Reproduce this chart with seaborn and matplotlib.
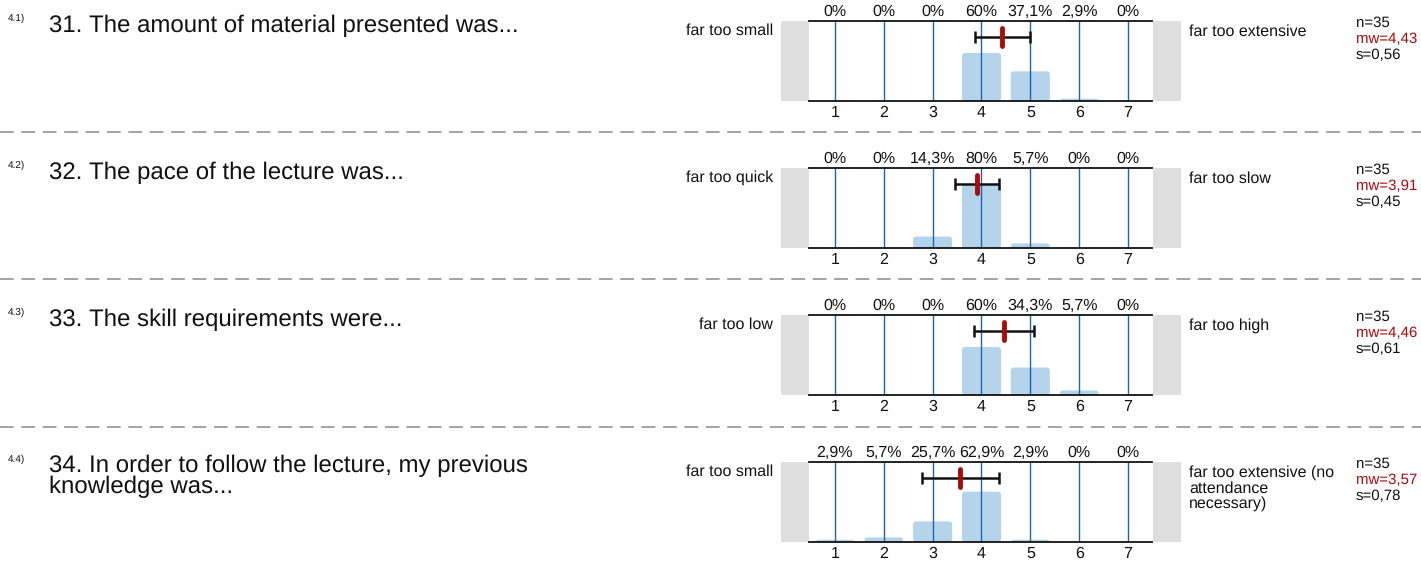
import numpy as np
import pandas as pd
import matplotlib
matplotlib.use("Agg")
import matplotlib.pyplot as plt
import matplotlib.transforms as mtransforms
import seaborn as sns
from matplotlib.patches import Rectangle, FancyBboxPatch
from matplotlib.lines import Line2D

# ---- data ----
scale = [1, 2, 3, 4, 5, 6, 7]
item_ids = ["4.1)", "4.2)", "4.3)", "4.4)"]
questions = [
    "31. The amount of material presented was...",
    "32. The pace of the lecture was...",
    "33. The skill requirements were...",
    "34. In order to follow the lecture, my previous\nknowledge was...",
]
left_labels = ["far too small", "far too quick", "far too low", "far too small"]
right_labels = ["far too extensive", "far too slow", "far too high",
                "far too extensive (no\nattendance\nnecessary)"]
pct_q31 = [0, 0, 0, 60, 37.1, 2.9, 0]
pct_q32 = [0, 0, 14.3, 80, 5.7, 0, 0]
pct_q33 = [0, 0, 0, 60, 34.3, 5.7, 0]
pct_q34 = [2.9, 5.7, 25.7, 62.9, 2.9, 0, 0]
n_resp = [35, 35, 35, 35]
means = [4.43, 3.91, 4.46, 3.57]
sds = [0.56, 0.45, 0.61, 0.78]

pcts = [pct_q31, pct_q32, pct_q33, pct_q34]

sns.set_theme(style="white")
plt.rcParams["font.family"] = ["Liberation Sans", "DejaVu Sans"]
plt.rcParams["text.hinting"] = "no_hinting"
plt.rcParams["text.hinting_factor"] = 1

W, H = 1421, 561
fig = plt.figure(figsize=(W / 100, H / 100), dpi=100)


def fx(px):
    return px / W


def fy(py):
    return 1 - py / H


BAR_C = "#b4d4eb"
GRID_C = "#1f62b0"
RED = "#aa0a0a"
TXT = "#111111"

row_top = [21, 168, 315, 462]
ax_l, ax_r, ax_h = 809, 1152, 80
xlo, xhi = 0.47, 7.49

# dashed separators between the rows
for yy in [132, 279, 427]:
    fig.add_artist(Line2D([0, 1], [fy(yy), fy(yy)], transform=fig.transFigure,
                          color="#8a8a8a", lw=1.1, linestyle=(0, (9, 5))))

for i in range(4):
    top = row_top[i]
    ax = fig.add_axes([fx(ax_l), fy(top + ax_h), fx(ax_r - ax_l), ax_h / H])
    df = pd.DataFrame({"answer": scale, "pct": pcts[i]})
    sns.barplot(data=df, x="answer", y="pct", native_scale=True, color=BAR_C,
                saturation=1, width=0.8, ax=ax, zorder=1)
    ax.set_xlim(xlo, xhi)
    ax.set_ylim(0, 100)

    # swap the plain bars for ones with softly rounded corners
    ux = (xhi - xlo) / (ax_r - ax_l)  # data units per pixel, x
    uy = 100 / ax_h                    # data units per pixel, y
    for p in list(ax.patches):
        x0, w, h = p.get_x(), p.get_width(), p.get_height()
        p.remove()
        if h <= 0:
            continue
        ax.add_patch(FancyBboxPatch((x0, 0), w, h,
                                    boxstyle="round,pad=0,rounding_size=%f" % (3 * ux),
                                    mutation_aspect=uy / ux, fc=BAR_C, ec="none", zorder=1))

    for v in scale:
        ax.axvline(v, color=GRID_C, lw=1.0, zorder=2)
    ax.set_xlabel("")
    ax.set_ylabel("")
    ax.set_yticks([])
    ax.set_xticks(scale)
    ax.set_xticklabels([str(v) for v in scale], fontsize=11.5, color=TXT)
    ax.tick_params(axis="x", length=0, pad=3)
    for s in ["left", "right"]:
        ax.spines[s].set_visible(False)
    for s in ["top", "bottom"]:
        ax.spines[s].set_color("#111111")
        ax.spines[s].set_linewidth(1.3)
    ax.patch.set_alpha(0)

    # percentages above the box
    trans = mtransforms.blended_transform_factory(ax.transData, fig.transFigure)
    for v, p in zip(scale, pcts[i]):
        lab = ("%g" % p).replace(".", ",") + "%"
        ax.text(v, fy(top - 5.5), lab, transform=trans,
                ha="center", va="baseline", fontsize=11.5, color=TXT)

    # mean +- sd and mean marker
    ax.errorbar([means[i]], [80], xerr=[sds[i]], fmt="none", ecolor="#111111",
                elinewidth=1.8, capsize=4, capthick=1.8, zorder=4)
    ax.plot([means[i], means[i]], [69, 91], color=RED, lw=3.5,
            solid_capstyle="round", zorder=5)

    # grey end boxes
    fig.add_artist(Rectangle((fx(781), fy(top + ax_h)), fx(28), ax_h / H,
                             transform=fig.transFigure, color="#dedede", lw=0, zorder=0))
    fig.add_artist(Rectangle((fx(1153), fy(top + ax_h)), fx(28), ax_h / H,
                             transform=fig.transFigure, color="#dedede", lw=0, zorder=0))

    # texts
    fig.text(fx(8), fy(top - 3), item_ids[i], fontsize=7.5, color=TXT, va="center", ha="left")
    q_lines = questions[i].split("\n")
    q_base = top + 11 if len(q_lines) == 1 else top + 10
    for k, line in enumerate(q_lines):
        fig.text(fx(49), fy(q_base + 21 * k), line, fontsize=17.4, color=TXT,
                 va="baseline", ha="left")
    fig.text(fx(773), fy(top + 10), left_labels[i], fontsize=11.5, color=TXT,
             va="center", ha="right")
    for k, line in enumerate(right_labels[i].split("\n")):
        fig.text(fx(1189), fy(top + 11 + 15.5 * k), line, fontsize=11.5, color=TXT,
                 va="center", ha="left")
    fig.text(fx(1356), fy(top + 2), "n=%d" % n_resp[i], fontsize=11, color=TXT,
             va="center", ha="left")
    fig.text(fx(1356), fy(top + 18), ("mw=%.2f" % means[i]).replace(".", ","),
             fontsize=11, color=RED, va="center", ha="left")
    fig.text(fx(1356), fy(top + 34), ("s=%.2f" % sds[i]).replace(".", ","),
             fontsize=11, color=TXT, va="center", ha="left")

fig.savefig("out.png", dpi=100)
